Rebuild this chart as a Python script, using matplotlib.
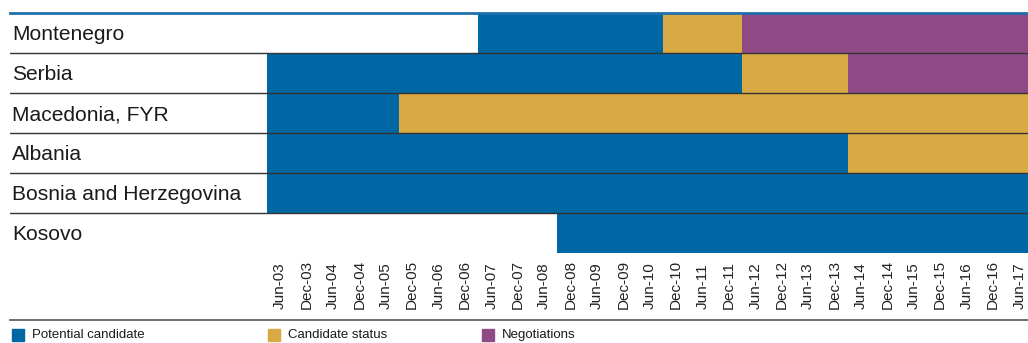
"""
Western Balkans: EU accession status over time
"""

import matplotlib
matplotlib.use("Agg")
import matplotlib.pyplot as plt
from matplotlib.patches import Rectangle

countries = ["Montenegro", "Serbia", "Macedonia, FYR", "Albania",
             "Bosnia and Herzegovina", "Kosovo"]

periods = ["Jun-03", "Dec-03", "Jun-04", "Dec-04", "Jun-05", "Dec-05", "Jun-06",
           "Dec-06", "Jun-07", "Dec-07", "Jun-08", "Dec-08", "Jun-09", "Dec-09",
           "Jun-10", "Dec-10", "Jun-11", "Dec-11", "Jun-12", "Dec-12", "Jun-13",
           "Dec-13", "Jun-14", "Dec-14", "Jun-15", "Dec-15", "Jun-16", "Dec-16",
           "Jun-17"]

# first period (label) of each status per country, None = not reached
potential_from = ["Jun-07", "Jun-03", "Jun-03", "Jun-03", "Jun-03", "Dec-08"]
candidate_from = ["Dec-10", "Jun-12", "Dec-05", "Jun-14", None, None]
negotiations_from = ["Jun-12", "Jun-14", None, None, None, None]

status_names = ["Potential candidate", "Candidate status", "Negotiations"]
status_colors = ["#0067a5", "#d9a944", "#8f4a86"]

FONT = ["Liberation Sans", "DejaVu Sans"]

W, H = 1028, 343
fig = plt.figure(figsize=(W / 100, H / 100), dpi=100)

# geometry in pixels
cell = 26.4
x0_px = 267          # start of Jun-03 cell
left_px = 10
top_px = 13
row_px = 40
bottom_px = 320
n = len(periods)

right_px = x0_px + n * cell
ax = fig.add_axes([left_px / W, 1 - bottom_px / H,
                   (right_px - left_px) / W, (bottom_px - top_px) / H])
x_left = -(x0_px - left_px) / cell
y_bottom = (bottom_px - top_px) / row_px
ax.set_xlim(x_left, n)
ax.set_ylim(y_bottom, 0)

starts = [potential_from, candidate_from, negotiations_from]
for i, country in enumerate(countries):
    seg = []
    for k, lst in enumerate(starts):
        if lst[i] is not None:
            seg.append((periods.index(lst[i]), k))
    for j, (s, k) in enumerate(seg):
        e = seg[j + 1][0] if j + 1 < len(seg) else n
        ax.barh(i + 0.5, e - s, left=s, height=1.0, color=status_colors[k],
                linewidth=0)
    ax.text(x_left + 2 / cell, i + 0.55, country, ha="left", va="center",
            fontsize=15.1, color="#1a1a1a", family=FONT)

for i in range(1, len(countries)):
    ax.axhline(i, color="#333333", linewidth=1.0)

for j, p in enumerate(periods):
    ax.text(j + 0.5, len(countries) + (309 - 253) / row_px, p, rotation=90,
            ha="center", va="bottom", fontsize=11, color="#222222",
            family=FONT)

ax.set_xticks([])
ax.set_yticks([])
for s in ["left", "right"]:
    ax.spines[s].set_visible(False)
ax.spines["top"].set_color("#1f6fad")
ax.spines["top"].set_linewidth(2)
ax.spines["bottom"].set_color("#555555")
ax.spines["bottom"].set_linewidth(1.2)

# legend
leg_x = [12, 268, 482]
leg_y = 335
for x, name, c in zip(leg_x, status_names, status_colors):
    fig.patches.append(Rectangle((x / W, 1 - (leg_y + 6) / H), 12 / W, 12 / H,
                                 transform=fig.transFigure, color=c))
    fig.text((x + 20) / W, 1 - leg_y / H, name, ha="left", va="center",
             fontsize=9.5, color="#1a1a1a", family=FONT)

fig.savefig("out.png", dpi=100)
